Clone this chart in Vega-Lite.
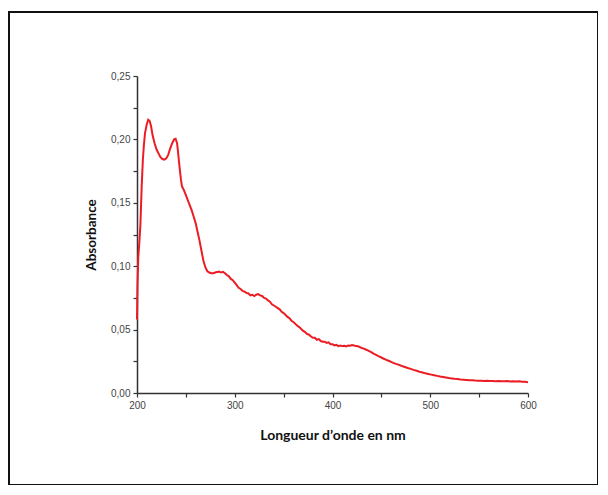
{
  "$schema": "https://vega.github.io/schema/vega-lite/v6.json",
  "autosize": "none",
  "padding": {"left": 9, "top": 12, "right": 0, "bottom": 0},
  "width": 589,
  "height": 473,
  "background": "white",
  "config": {
    "view": {"stroke": "#111", "strokeWidth": 2},
    "axis": {"grid": false}
  },
  "data": {"values": [
    {"wl": 200, "abs": 0.058}, {"wl": 200.5, "abs": 0.085}, {"wl": 201.3, "abs": 0.107},
    {"wl": 202.5, "abs": 0.12}, {"wl": 203.5, "abs": 0.133}, {"wl": 204.8, "abs": 0.163},
    {"wl": 206, "abs": 0.184}, {"wl": 207, "abs": 0.195}, {"wl": 208.2, "abs": 0.205},
    {"wl": 210, "abs": 0.212}, {"wl": 211.5, "abs": 0.2155}, {"wl": 213, "abs": 0.2145},
    {"wl": 214.5, "abs": 0.21}, {"wl": 216, "abs": 0.203}, {"wl": 218, "abs": 0.197},
    {"wl": 220, "abs": 0.192}, {"wl": 222, "abs": 0.189}, {"wl": 224, "abs": 0.186},
    {"wl": 226, "abs": 0.1845}, {"wl": 228, "abs": 0.184}, {"wl": 230, "abs": 0.185},
    {"wl": 232, "abs": 0.188}, {"wl": 234, "abs": 0.193}, {"wl": 236, "abs": 0.197},
    {"wl": 238, "abs": 0.2}, {"wl": 239.5, "abs": 0.2005}, {"wl": 241, "abs": 0.197},
    {"wl": 242, "abs": 0.19}, {"wl": 243, "abs": 0.182}, {"wl": 244, "abs": 0.175},
    {"wl": 245, "abs": 0.168}, {"wl": 246, "abs": 0.163}, {"wl": 248, "abs": 0.16},
    {"wl": 250, "abs": 0.156}, {"wl": 252, "abs": 0.152}, {"wl": 254, "abs": 0.148},
    {"wl": 256, "abs": 0.144}, {"wl": 258, "abs": 0.139}, {"wl": 260, "abs": 0.134},
    {"wl": 262, "abs": 0.127}, {"wl": 264, "abs": 0.12}, {"wl": 266, "abs": 0.112},
    {"wl": 268, "abs": 0.104}, {"wl": 270, "abs": 0.099}, {"wl": 272, "abs": 0.096},
    {"wl": 274, "abs": 0.095}, {"wl": 276, "abs": 0.0945}, {"wl": 278, "abs": 0.0945},
    {"wl": 280, "abs": 0.095}, {"wl": 282, "abs": 0.0955}, {"wl": 284, "abs": 0.0957},
    {"wl": 286, "abs": 0.095}, {"wl": 288, "abs": 0.0955}, {"wl": 290, "abs": 0.0945},
    {"wl": 292, "abs": 0.093}, {"wl": 294, "abs": 0.092}, {"wl": 296, "abs": 0.09},
    {"wl": 298, "abs": 0.089}, {"wl": 300, "abs": 0.087}, {"wl": 302, "abs": 0.085},
    {"wl": 304, "abs": 0.083}, {"wl": 306, "abs": 0.082}, {"wl": 308, "abs": 0.0805},
    {"wl": 310, "abs": 0.08}, {"wl": 312, "abs": 0.079}, {"wl": 314, "abs": 0.0785},
    {"wl": 316, "abs": 0.077}, {"wl": 318, "abs": 0.0775}, {"wl": 320, "abs": 0.0765},
    {"wl": 322, "abs": 0.0775}, {"wl": 324, "abs": 0.078}, {"wl": 326, "abs": 0.077},
    {"wl": 328, "abs": 0.0765}, {"wl": 330, "abs": 0.075}, {"wl": 332, "abs": 0.0745},
    {"wl": 334, "abs": 0.073}, {"wl": 336, "abs": 0.072}, {"wl": 338, "abs": 0.07},
    {"wl": 340, "abs": 0.069}, {"wl": 342, "abs": 0.068}, {"wl": 344, "abs": 0.067},
    {"wl": 346, "abs": 0.066}, {"wl": 348, "abs": 0.064}, {"wl": 350, "abs": 0.063},
    {"wl": 352, "abs": 0.0615}, {"wl": 354, "abs": 0.06}, {"wl": 356, "abs": 0.059},
    {"wl": 358, "abs": 0.057}, {"wl": 360, "abs": 0.056}, {"wl": 362, "abs": 0.0545},
    {"wl": 364, "abs": 0.053}, {"wl": 366, "abs": 0.052}, {"wl": 368, "abs": 0.0505},
    {"wl": 370, "abs": 0.049}, {"wl": 372, "abs": 0.048}, {"wl": 374, "abs": 0.0465},
    {"wl": 376, "abs": 0.046}, {"wl": 378, "abs": 0.0445}, {"wl": 380, "abs": 0.0435},
    {"wl": 382, "abs": 0.0435}, {"wl": 384, "abs": 0.042}, {"wl": 386, "abs": 0.0425},
    {"wl": 388, "abs": 0.041}, {"wl": 390, "abs": 0.0405}, {"wl": 392, "abs": 0.0405},
    {"wl": 394, "abs": 0.0395}, {"wl": 396, "abs": 0.04}, {"wl": 398, "abs": 0.0385},
    {"wl": 400, "abs": 0.0385}, {"wl": 402, "abs": 0.0375}, {"wl": 404, "abs": 0.038},
    {"wl": 406, "abs": 0.037}, {"wl": 408, "abs": 0.0375}, {"wl": 410, "abs": 0.037},
    {"wl": 412, "abs": 0.0372}, {"wl": 414, "abs": 0.0368}, {"wl": 416, "abs": 0.0375},
    {"wl": 418, "abs": 0.0373}, {"wl": 420, "abs": 0.0378}, {"wl": 422, "abs": 0.0375},
    {"wl": 424, "abs": 0.037}, {"wl": 426, "abs": 0.0368}, {"wl": 428, "abs": 0.0362},
    {"wl": 430, "abs": 0.0355}, {"wl": 432, "abs": 0.035}, {"wl": 434, "abs": 0.0343},
    {"wl": 436, "abs": 0.0336}, {"wl": 438, "abs": 0.0328}, {"wl": 440, "abs": 0.032},
    {"wl": 442, "abs": 0.031}, {"wl": 444, "abs": 0.0302}, {"wl": 446, "abs": 0.0294},
    {"wl": 448, "abs": 0.0287}, {"wl": 450, "abs": 0.028}, {"wl": 452, "abs": 0.0272},
    {"wl": 454, "abs": 0.0265}, {"wl": 456, "abs": 0.0258}, {"wl": 458, "abs": 0.0252},
    {"wl": 460, "abs": 0.0245}, {"wl": 462, "abs": 0.0238}, {"wl": 465, "abs": 0.023},
    {"wl": 468, "abs": 0.0222}, {"wl": 471, "abs": 0.0213}, {"wl": 474, "abs": 0.0205},
    {"wl": 477, "abs": 0.0197}, {"wl": 480, "abs": 0.019}, {"wl": 483, "abs": 0.0182},
    {"wl": 486, "abs": 0.0175}, {"wl": 489, "abs": 0.0168}, {"wl": 492, "abs": 0.0162},
    {"wl": 495, "abs": 0.0155}, {"wl": 498, "abs": 0.015}, {"wl": 501, "abs": 0.0145},
    {"wl": 504, "abs": 0.014}, {"wl": 507, "abs": 0.0135}, {"wl": 510, "abs": 0.013},
    {"wl": 513, "abs": 0.0126}, {"wl": 516, "abs": 0.0122}, {"wl": 519, "abs": 0.0118},
    {"wl": 522, "abs": 0.0115}, {"wl": 525, "abs": 0.0112}, {"wl": 528, "abs": 0.011},
    {"wl": 531, "abs": 0.0107}, {"wl": 534, "abs": 0.0105}, {"wl": 537, "abs": 0.0103},
    {"wl": 540, "abs": 0.0101}, {"wl": 543, "abs": 0.01}, {"wl": 546, "abs": 0.0098},
    {"wl": 549, "abs": 0.0097}, {"wl": 552, "abs": 0.0096}, {"wl": 555, "abs": 0.0095},
    {"wl": 558, "abs": 0.0096}, {"wl": 561, "abs": 0.0094}, {"wl": 564, "abs": 0.0095},
    {"wl": 567, "abs": 0.0093}, {"wl": 570, "abs": 0.0095}, {"wl": 573, "abs": 0.0093},
    {"wl": 576, "abs": 0.0092}, {"wl": 579, "abs": 0.0094}, {"wl": 582, "abs": 0.0091},
    {"wl": 585, "abs": 0.0093}, {"wl": 588, "abs": 0.009}, {"wl": 591, "abs": 0.0092},
    {"wl": 594, "abs": 0.0088}, {"wl": 597, "abs": 0.0089}, {"wl": 600, "abs": 0.0085}
  ]},
  "mark": {"type": "line", "color": "#ec1c24", "strokeWidth": 2, "interpolate": "linear"},
  "encoding": {
    "x": {
      "field": "wl", "type": "quantitative",
      "scale": {"domain": [200, 600], "range": [128, 519], "nice": false, "zero": false},
      "axis": {
        "title": "Longueur d\u2019onde en nm",
        "offset": -92,
        "values": [200, 250, 300, 350, 400, 450, 500, 550, 600],
        "labelExpr": "datum.value % 100 == 0 ? datum.label : ''",
        "labelFlush": false, "labelOverlap": false,
        "labelFont": "Liberation Sans", "labelFontSize": 10, "labelColor": "#444",
        "labelPadding": 3,
        "tickSize": 4, "tickColor": "#333", "tickWidth": 1.2,
        "domainColor": "#333", "domainWidth": 1.5,
        "titleFont": "Lato", "titleFontSize": 14, "titleFontWeight": "bold", "titleColor": "#111",
        "titlePadding": 18
      }
    },
    "y": {
      "field": "abs", "type": "quantitative",
      "scale": {"domain": [0, 0.25], "range": [381, 64], "nice": false, "zero": false},
      "axis": {
        "title": "Absorbance",
        "offset": -128,
        "values": [0, 0.025, 0.05, 0.075, 0.1, 0.125, 0.15, 0.175, 0.2, 0.225, 0.25],
        "labelExpr": "round(datum.value * 1000) % 50 == 0 ? replace(format(datum.value, '.2f'), '.', ',') : ''",
        "labelFlush": false, "labelOverlap": false,
        "labelFont": "Liberation Sans", "labelFontSize": 10, "labelColor": "#444",
        "labelPadding": 3,
        "tickSize": 4, "tickColor": "#333", "tickWidth": 1.2,
        "domainColor": "#333", "domainWidth": 1.5,
        "titleFont": "Lato", "titleFontSize": 13.5, "titleFontWeight": "bold", "titleColor": "#111",
        "titlePadding": 12
      }
    }
  }
}
